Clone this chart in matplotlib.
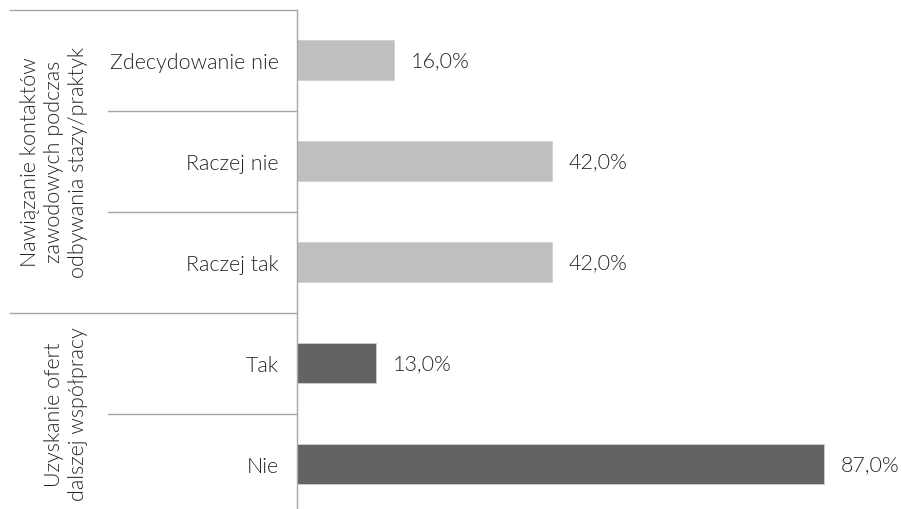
import matplotlib
matplotlib.use('Agg')
import matplotlib.pyplot as plt
from matplotlib.lines import Line2D
import matplotlib.transforms as mtransforms

# dane
kategorie = ['Zdecydowanie nie', 'Raczej nie', 'Raczej tak', 'Tak', 'Nie']
wartosci = [16.0, 42.0, 42.0, 13.0, 87.0]
grupy = ['Nawiązanie kontaktów\nzawodowych podczas\nodbywania stazy/praktyk',
         'Uzyskanie ofert\ndalszej współpracy']
grupy_zakres = [(0, 2), (3, 4)]
kolory = ['#BFBFBF', '#BFBFBF', '#BFBFBF', '#636363', '#636363']

plt.rcParams['font.family'] = ['Lato', 'DejaVu Sans']
plt.rcParams['font.weight'] = 300
tekst = '#262626'
linia = '#A6A6A6'
fs = 15.5

W, H = 903, 510
fig = plt.figure(figsize=(W / 100, H / 100), dpi=100)
ax = fig.add_axes([297 / W, (H - 515.5) / H, (W - 297) / W, 505 / H])

y = list(range(len(kategorie)))
ax.barh(y, wartosci, height=0.4, color=kolory, edgecolor='#D0D0D0', linewidth=0.6)
ax.set_xlim(0, 100)
ax.set_ylim(len(kategorie) - 0.5, -0.5)

for yi, v in zip(y, wartosci):
    ax.annotate(f'{v:.1f}%'.replace('.', ','), (v, yi), xytext=(12, 0),
                textcoords='offset points', va='center', ha='left',
                fontsize=fs, color=tekst)

ax.set_yticks(y)
ax.set_yticklabels(kategorie, fontsize=fs, color=tekst)
ax.tick_params(axis='y', length=0, pad=13)
ax.set_xticks([])
for s in ['top', 'right', 'bottom', 'left']:
    ax.spines[s].set_visible(False)

# os pionowa i linie podzialu
tr = mtransforms.blended_transform_factory(fig.transFigure, ax.transData)
x_ax = 297 / W
fig.add_artist(Line2D([x_ax, x_ax], [0, (H - 10.5) / H], color=linia, lw=1))
for g, (a, b) in enumerate(grupy_zakres):
    fig.add_artist(Line2D([10 / W, x_ax], [a - 0.5, a - 0.5], transform=tr,
                          color=linia, lw=1))
    for k in range(a, b):
        fig.add_artist(Line2D([108 / W, x_ax], [k + 0.5, k + 0.5], transform=tr,
                              color=linia, lw=1))
    fig.text(88 / W, (a + b) / 2, grupy[g], transform=tr, rotation=90,
             ha='right', va='center', multialignment='center',
             fontsize=fs, color=tekst, linespacing=1.25)

fig.savefig('out.png', dpi=100)
